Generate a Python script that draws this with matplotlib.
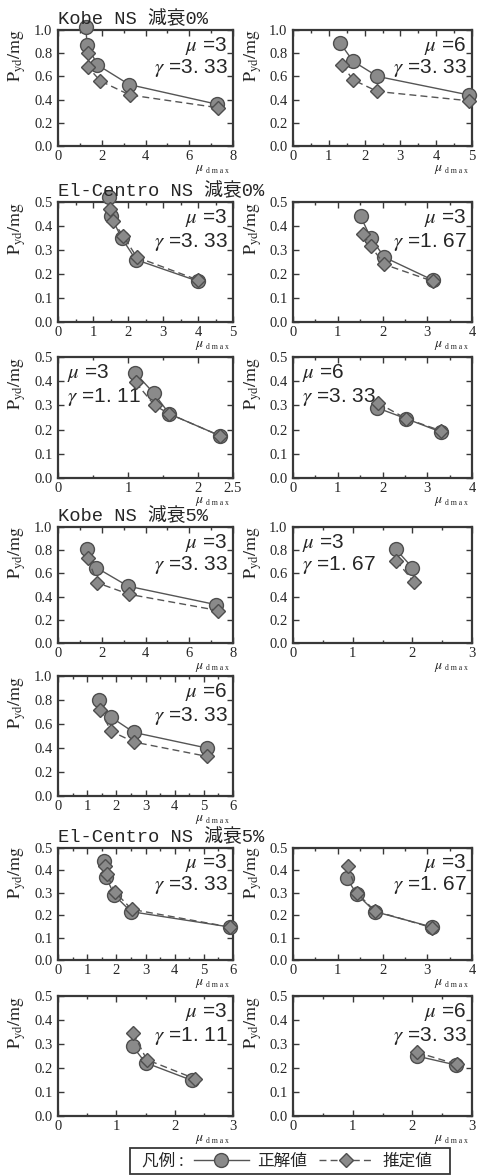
import matplotlib.pyplot as plt
from matplotlib.lines import Line2D
from matplotlib.patches import Rectangle
from matplotlib.ticker import MultipleLocator, FuncFormatter

plt.rcParams['font.family'] = ['Liberation Serif', 'Noto Sans CJK JP']
plt.rcParams['mathtext.fontset'] = 'stix'

# ---- data (x = mu_dmax, y = Pyd/mg) ----
# Kobe NS, damping 0%
kobe0_m3_true_x = [1.27, 1.33, 1.80, 3.25, 7.27]
kobe0_m3_true_y = [1.03, 0.87, 0.70, 0.53, 0.36]
kobe0_m3_est_x = [1.37, 1.37, 1.94, 3.28, 7.32]
kobe0_m3_est_y = [0.80, 0.68, 0.56, 0.44, 0.33]

kobe0_m6_true_x = [1.31, 1.68, 2.36, 4.91]
kobe0_m6_true_y = [0.89, 0.73, 0.60, 0.44]
kobe0_m6_est_x = [1.37, 1.68, 2.36, 4.91]
kobe0_m6_est_y = [0.70, 0.57, 0.47, 0.39]

# El-Centro NS, damping 0%
el0_m3g333_true_x = [1.46, 1.51, 1.82, 2.22, 4.0]
el0_m3g333_true_y = [0.52, 0.44, 0.35, 0.26, 0.17]
el0_m3g333_est_x = [1.49, 1.56, 1.86, 2.25, 4.0]
el0_m3g333_est_y = [0.47, 0.42, 0.36, 0.27, 0.175]

el0_m3g167_true_x = [1.51, 1.74, 2.04, 3.12]
el0_m3g167_true_y = [0.44, 0.35, 0.27, 0.175]
el0_m3g167_est_x = [1.57, 1.74, 2.04, 3.12]
el0_m3g167_est_y = [0.365, 0.315, 0.24, 0.17]

el0_m3g111_true_x = [1.10, 1.37, 1.59, 2.31]
el0_m3g111_true_y = [0.435, 0.35, 0.265, 0.175]
el0_m3g111_est_x = [1.11, 1.38, 1.59, 2.31]
el0_m3g111_est_y = [0.395, 0.30, 0.265, 0.175]

el0_m6_true_x = [1.88, 2.53, 3.31]
el0_m6_true_y = [0.29, 0.245, 0.19]
el0_m6_est_x = [1.90, 2.53, 3.31]
el0_m6_est_y = [0.31, 0.245, 0.195]

# Kobe NS, damping 5%
kobe5_m3g333_true_x = [1.33, 1.75, 3.20, 7.24]
kobe5_m3g333_true_y = [0.81, 0.65, 0.49, 0.33]
kobe5_m3g333_est_x = [1.37, 1.78, 3.25, 7.32]
kobe5_m3g333_est_y = [0.73, 0.52, 0.42, 0.28]

kobe5_m3g167_true_x = [1.72, 2.00]
kobe5_m3g167_true_y = [0.81, 0.65]
kobe5_m3g167_est_x = [1.73, 2.02]
kobe5_m3g167_est_y = [0.71, 0.53]

kobe5_m6_true_x = [1.42, 1.80, 2.60, 5.10]
kobe5_m6_true_y = [0.80, 0.66, 0.53, 0.40]
kobe5_m6_est_x = [1.44, 1.82, 2.60, 5.11]
kobe5_m6_est_y = [0.72, 0.54, 0.45, 0.33]

# El-Centro NS, damping 5%
el5_m3g333_true_x = [1.57, 1.65, 1.93, 2.50, 5.90]
el5_m3g333_true_y = [0.44, 0.37, 0.29, 0.216, 0.147]
el5_m3g333_est_x = [1.60, 1.68, 1.95, 2.53, 5.90]
el5_m3g333_est_y = [0.42, 0.383, 0.304, 0.226, 0.147]

el5_m3g167_true_x = [1.20, 1.43, 1.83, 3.11]
el5_m3g167_true_y = [0.365, 0.293, 0.216, 0.147]
el5_m3g167_est_x = [1.22, 1.44, 1.83, 3.11]
el5_m3g167_est_y = [0.42, 0.297, 0.219, 0.144]

el5_m3g111_true_x = [1.28, 1.50, 2.30]
el5_m3g111_true_y = [0.29, 0.222, 0.148]
el5_m3g111_est_x = [1.29, 1.52, 2.35]
el5_m3g111_est_y = [0.345, 0.235, 0.155]

el5_m6_true_x = [2.07, 2.74]
el5_m6_true_y = [0.25, 0.212]
el5_m6_est_x = [2.08, 2.75]
el5_m6_est_y = [0.265, 0.215]

titles = ['Kobe NS 減衰0%', 'El-Centro NS 減衰0%', 'Kobe NS 減衰5%', 'El-Centro NS 減衰5%']
title_rows = [0, 1, 3, 5]

# (row, col, xmax, xticks, ymax, ystep, true, est, mu, gamma, text side)
panels = [
    (0, 0, 8, [0, 2, 4, 6, 8], 1.0, 0.2, (kobe0_m3_true_x, kobe0_m3_true_y), (kobe0_m3_est_x, kobe0_m3_est_y), '3', '3. 33', 'r'),
    (0, 1, 5, [0, 1, 2, 3, 4, 5], 1.0, 0.2, (kobe0_m6_true_x, kobe0_m6_true_y), (kobe0_m6_est_x, kobe0_m6_est_y), '6', '3. 33', 'r'),
    (1, 0, 5, [0, 1, 2, 3, 4, 5], 0.5, 0.1, (el0_m3g333_true_x, el0_m3g333_true_y), (el0_m3g333_est_x, el0_m3g333_est_y), '3', '3. 33', 'r'),
    (1, 1, 4, [0, 1, 2, 3, 4], 0.5, 0.1, (el0_m3g167_true_x, el0_m3g167_true_y), (el0_m3g167_est_x, el0_m3g167_est_y), '3', '1. 67', 'r'),
    (2, 0, 2.5, [0, 1, 2, 2.5], 0.5, 0.1, (el0_m3g111_true_x, el0_m3g111_true_y), (el0_m3g111_est_x, el0_m3g111_est_y), '3', '1. 11', 'l'),
    (2, 1, 4, [0, 1, 2, 3, 4], 0.5, 0.1, (el0_m6_true_x, el0_m6_true_y), (el0_m6_est_x, el0_m6_est_y), '6', '3. 33', 'l'),
    (3, 0, 8, [0, 2, 4, 6, 8], 1.0, 0.2, (kobe5_m3g333_true_x, kobe5_m3g333_true_y), (kobe5_m3g333_est_x, kobe5_m3g333_est_y), '3', '3. 33', 'r'),
    (3, 1, 3, [0, 1, 2, 3], 1.0, 0.2, (kobe5_m3g167_true_x, kobe5_m3g167_true_y), (kobe5_m3g167_est_x, kobe5_m3g167_est_y), '3', '1. 67', 'l'),
    (4, 0, 6, [0, 1, 2, 3, 4, 5, 6], 1.0, 0.2, (kobe5_m6_true_x, kobe5_m6_true_y), (kobe5_m6_est_x, kobe5_m6_est_y), '6', '3. 33', 'r'),
    (5, 0, 6, [0, 1, 2, 3, 4, 5, 6], 0.5, 0.1, (el5_m3g333_true_x, el5_m3g333_true_y), (el5_m3g333_est_x, el5_m3g333_est_y), '3', '3. 33', 'r'),
    (5, 1, 4, [0, 1, 2, 3, 4], 0.5, 0.1, (el5_m3g167_true_x, el5_m3g167_true_y), (el5_m3g167_est_x, el5_m3g167_est_y), '3', '1. 67', 'r'),
    (6, 0, 3, [0, 1, 2, 3], 0.5, 0.1, (el5_m3g111_true_x, el5_m3g111_true_y), (el5_m3g111_est_x, el5_m3g111_est_y), '3', '1. 11', 'r'),
    (6, 1, 3, [0, 1, 2, 3], 0.5, 0.1, (el5_m6_true_x, el5_m6_true_y), (el5_m6_est_x, el5_m6_est_y), '6', '3. 33', 'r'),
]

W, H = 479, 1176
fig = plt.figure(figsize=(W / 100, H / 100), dpi=100)

# pixel layout of the panels
col_x = [(58, 233), (293, 472)]
row_y = [(30, 146), (202, 322), (357, 478), (527, 643), (676, 796), (848, 960), (996, 1116)]

fc = '#383838'
tc = '#262626'
lc = '#555555'
mface = '#8a8a8a'
medge = '#4e4e4e'

true_style = dict(ls='-', lw=1.0, color=lc, marker='o', ms=10, mfc=mface, mec=medge, mew=1.0)
est_style = dict(ls=(0, (5, 3)), lw=1.0, color=lc, marker='D', ms=7, mfc=mface, mec=medge, mew=1.0)

for (r, c, xmax, xticks, ymax, ystep, tru, est, mu, gam, side) in panels:
    x0, x1 = col_x[c]
    y0, y1 = row_y[r]
    ax = fig.add_axes([x0 / W, 1 - y1 / H, (x1 - x0) / W, (y1 - y0) / H])

    ax.plot(tru[0], tru[1], clip_on=False, zorder=3, **true_style)
    ax.plot(est[0], est[1], clip_on=False, zorder=4, **est_style)

    ax.set_xlim(0, xmax)
    ax.set_ylim(0, ymax)
    ax.set_xticks(xticks)
    ax.xaxis.set_minor_locator(MultipleLocator(0.5 if xticks[1] - xticks[0] <= 1 else 1))
    n = int(round(ymax / ystep))
    ax.set_yticks([i * ystep for i in range(n + 1)])
    ax.xaxis.set_major_formatter(FuncFormatter(lambda v, p: '%g' % v))
    ax.yaxis.set_major_formatter(FuncFormatter(lambda v, p: '%.1f' % v))
    ax.tick_params(which='both', direction='in', top=True, right=True, color=fc, width=1.0)
    ax.tick_params(which='major', length=4, labelsize=10.5, labelcolor=tc)
    ax.tick_params(axis='x', which='major', pad=3)
    ax.tick_params(axis='y', which='major', pad=4)
    ax.tick_params(which='minor', length=2.5)
    for s in ax.spines.values():
        s.set_linewidth(1.6)
        s.set_color(fc)

    ax.set_ylabel(r'$\mathrm{P_{yd}/mg}$', fontsize=13, color=tc)
    ax.yaxis.set_label_coords(-0.17 if c == 0 else -0.16, 0.78)

    # x label: "mu dmax" under the right end of the axis
    ax.annotate(r'$\mu$', xy=(1, 0), xycoords='axes fraction', xytext=(-29, -24),
                textcoords='offset pixels', ha='right', va='center', fontsize=10, color=tc)
    ax.annotate('d m a x', xy=(1, 0), xycoords='axes fraction', xytext=(-4, -25),
                textcoords='offset pixels', ha='right', va='center', fontsize=5.5, color=tc)

    if side == 'r':
        tx, ha = 0.97, 'right'
    else:
        tx, ha = 0.05, 'left'
    ax.text(tx, 0.865, r'$\mu$ =' + mu, transform=ax.transAxes, ha=ha, va='center',
            fontsize=15, color=tc, family=['Liberation Sans', 'DejaVu Sans'])
    ax.text(tx, 0.67, r'$\gamma$ =' + gam, transform=ax.transAxes, ha=ha, va='center',
            fontsize=15, color=tc, family=['Liberation Sans', 'DejaVu Sans'])

for r, t in zip(title_rows, titles):
    fig.text(58 / W, 1 - (row_y[r][0] - 11) / H, t, ha='left', va='center', fontsize=13.5, color=tc,
             family=['Liberation Mono', 'Noto Sans CJK JP'])

# legend box at the bottom
fig.add_artist(Rectangle((130 / W, 1 - 1174 / H), (450 - 130) / W, (1174 - 1148) / H,
                         transform=fig.transFigure, fill=False, ec=fc, lw=1.3))
fig.text(142 / W, 1 - 1161 / H, '凡例 :', ha='left', va='center', fontsize=12, color=tc,
         family=['Noto Sans CJK JP'])
handles = [Line2D([], [], **true_style), Line2D([], [], **est_style)]
leg = fig.legend(handles, ['正解値', '推定値'], loc='center', bbox_to_anchor=(313 / W, 1 - 1161 / H),
                 ncol=2, frameon=False, handlelength=3.3, handletextpad=0.5, columnspacing=0.7,
                 prop={'family': 'Noto Sans CJK JP', 'size': 12})
for t in leg.get_texts():
    t.set_color(tc)

fig.savefig('out.png', dpi=100)
